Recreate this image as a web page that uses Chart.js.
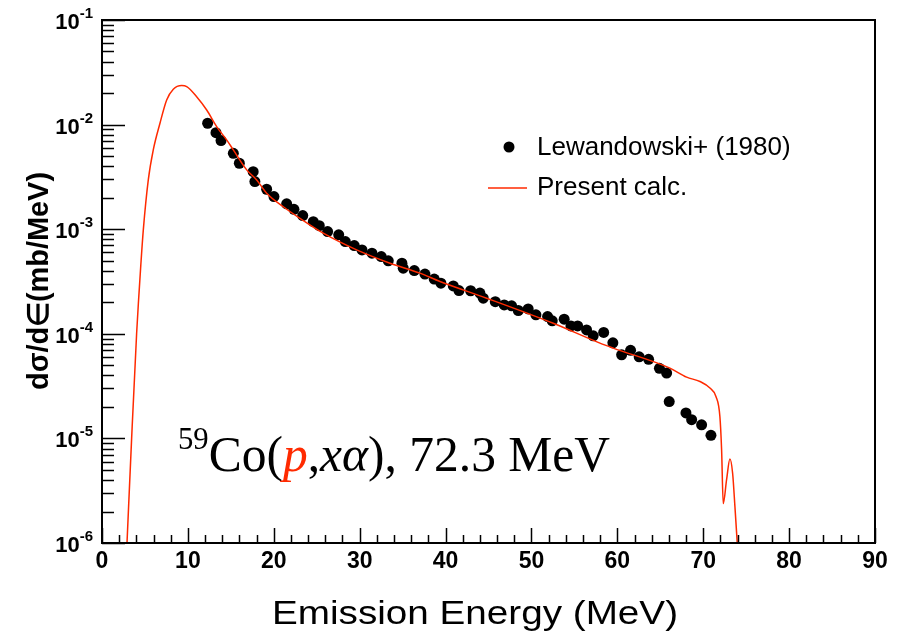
<!DOCTYPE html>
<html>
<head>
<meta charset="utf-8">
<script src="https://cdn.jsdelivr.net/npm/chart.js@4"></script>
<style>
  html, body { margin: 0; padding: 0; background: #fff; }
  canvas { display: block; }
</style>
</head>
<body>
<canvas id="c" width="901" height="639"></canvas>
<script>
// Measured alpha emission spectrum (energy in MeV, dsigma/dE in mb/MeV)
const energyExp = [
  12.3, 13.27, 13.86, 15.29, 15.99, 17.6, 17.8, 19.17, 20.02, 21.5,
  22.35, 23.37, 24.6, 25.3, 26.27, 27.56, 28.33, 29.37, 30.27, 31.43,
  32.51, 33.33, 34.92, 35.07, 36.36, 37.6, 38.68, 39.46, 40.9, 41.56,
  42.92, 44.0, 44.39, 45.79, 46.83, 47.69, 48.47, 49.62, 50.52, 51.88,
  52.42, 53.81, 54.6, 55.38, 56.42, 57.19, 58.41, 59.48, 60.5, 61.54,
  62.54, 63.64, 64.9, 65.74, 66.04, 67.99, 68.65, 69.81, 70.9
];
const sigmaExp = [
  1.03e-2, 8.38e-3, 7.03e-3, 5.32e-3, 4.27e-3, 3.55e-3, 2.85e-3, 2.41e-3, 2.05e-3, 1.75e-3,
  1.55e-3, 1.35e-3, 1.18e-3, 1.08e-3, 9.49e-4, 8.83e-4, 7.62e-4, 6.97e-4, 6.34e-4, 5.90e-4,
  5.48e-4, 4.98e-4, 4.73e-4, 4.24e-4, 4.02e-4, 3.72e-4, 3.34e-4, 3.05e-4, 2.87e-4, 2.59e-4,
  2.58e-4, 2.45e-4, 2.19e-4, 2.03e-4, 1.89e-4, 1.85e-4, 1.67e-4, 1.73e-4, 1.52e-4, 1.46e-4,
  1.33e-4, 1.38e-4, 1.19e-4, 1.19e-4, 1.09e-4, 9.57e-5, 1.03e-4, 8.20e-5, 6.30e-5, 6.95e-5,
  6.03e-5, 5.70e-5, 4.68e-5, 4.21e-5, 2.25e-5, 1.75e-5, 1.51e-5, 1.35e-5, 1.07e-5
];

// Calculated spectrum
const energyCalc = [
  2.91, 3.45, 4.03, 4.26, 4.52, 4.81, 5.39, 5.97, 6.75, 7.53,
  8.30, 9.28, 9.86, 11.02, 12.19, 13.35, 14.51, 15.29, 16.85, 18.01,
  19.17, 21.11, 23.05, 25.76, 29.65, 33.53, 37.02, 39.35, 44.78, 52.54,
  57.97, 59.52, 66.12, 68.07, 69.62, 70.78, 71.48, 71.94, 72.14, 72.33,
  72.72, 73.11, 73.42, 73.69, 73.96
];
const sigmaCalc = [
  1.0e-6, 1.0e-5, 1.0e-4, 2.11e-4, 4.56e-4, 9.86e-4, 2.96e-3, 5.73e-3, 1.03e-2, 1.72e-2,
  2.18e-2, 2.36e-2, 2.31e-2, 1.85e-2, 1.38e-2, 9.57e-3, 7.14e-3, 5.73e-3, 3.69e-3, 2.96e-3,
  2.21e-3, 1.64e-3, 1.27e-3, 9.16e-4, 6.34e-4, 4.73e-4, 3.80e-4, 3.16e-4, 2.19e-4, 1.26e-4,
  8.15e-5, 7.30e-5, 4.70e-5, 3.85e-5, 3.50e-5, 3.03e-5, 2.52e-5, 1.62e-5, 7.78e-6, 2.38e-6,
  4.03e-6, 6.35e-6, 4.67e-6, 2.24e-6, 1.0e-6
];

// Axis ticks and labels
const xTickValues = [0, 10, 20, 30, 40, 50, 60, 70, 80, 90];
const yTickExponents = [-6, -5, -4, -3, -2, -1];
const seriesLabels = ['Lewandowski+ (1980)', 'Present calc.'];
const xTitle = 'Emission Energy (MeV)';
const yTitle = 'dσ/d∈(mb/MeV)';

const RED = '#ff2a00';
const SANS = '"Liberation Sans", Arial, Helvetica, sans-serif';
const SERIF = '"Liberation Serif", "Times New Roman", serif';

// Write text squeezed/stretched horizontally to a given width
function fitText(ctx, text, x, y, width) {
  const w = ctx.measureText(text).width;
  ctx.save();
  ctx.translate(x, y);
  ctx.scale(width / w, 1);
  ctx.textAlign = 'left';
  ctx.fillText(text, 0, 0);
  ctx.restore();
}

const framePlugin = {
  id: 'frame',
  afterDatasetsDraw(chart) {
    const { ctx, chartArea: a, scales: { x, y } } = chart;
    ctx.save();

    // plot box
    ctx.strokeStyle = '#000';
    ctx.lineWidth = 2;
    ctx.strokeRect(a.left, a.top, a.right - a.left, a.bottom - a.top);

    // x ticks (pointing inward from the bottom axis)
    ctx.lineWidth = 1.5;
    ctx.beginPath();
    for (let v = x.min; v <= x.max; v += 2) {
      const px = Math.round(x.getPixelForValue(v)) + 0.5;
      const len = xTickValues.includes(v) ? 15 : 8;
      ctx.moveTo(px, a.bottom);
      ctx.lineTo(px, a.bottom - len);
    }
    // y ticks (pointing inward from the left axis)
    for (let i = 0; i < yTickExponents.length; i++) {
      const e = yTickExponents[i];
      const mMax = i === yTickExponents.length - 1 ? 1 : 9;
      for (let m = 1; m <= mMax; m++) {
        const py = Math.round(y.getPixelForValue(m * Math.pow(10, e))) + 0.5;
        const len = m === 1 ? 23 : 12;
        ctx.moveTo(a.left, py);
        ctx.lineTo(a.left + len, py);
      }
    }
    ctx.stroke();

    // x tick labels
    ctx.fillStyle = '#000';
    ctx.font = 'bold 23px ' + SANS;
    ctx.textAlign = 'center';
    ctx.textBaseline = 'alphabetic';
    xTickValues.forEach(v => {
      ctx.fillText(String(v), x.getPixelForValue(v), a.bottom + 25);
    });

    // y tick labels: 10 with raised exponent
    ctx.textAlign = 'right';
    yTickExponents.forEach(e => {
      const py = y.getPixelForValue(Math.pow(10, e));
      const exp = String(e);
      ctx.font = 'bold 15px ' + SANS;
      const ew = ctx.measureText(exp).width;
      ctx.fillText(exp, 93, py - 2);
      ctx.font = 'bold 22px ' + SANS;
      ctx.fillText('10', 93 - ew, py + 9);
    });

    // axis titles
    ctx.font = '33px ' + SANS;
    ctx.textBaseline = 'alphabetic';
    fitText(ctx, xTitle, 272, 624, 406);

    ctx.save();
    ctx.translate(48, 390);
    ctx.rotate(-Math.PI / 2);
    ctx.font = 'bold 29px ' + SANS;
    fitText(ctx, yTitle, 0, 0, 218);
    ctx.restore();

    // legend
    ctx.fillStyle = '#000';
    ctx.beginPath();
    ctx.arc(509, 147, 5.5, 0, Math.PI * 2);
    ctx.fill();
    ctx.strokeStyle = RED;
    ctx.lineWidth = 1.5;
    ctx.beginPath();
    ctx.moveTo(488, 188);
    ctx.lineTo(527, 188);
    ctx.stroke();
    ctx.font = '26px ' + SANS;
    ctx.textAlign = 'left';
    ctx.fillText(seriesLabels[0], 537, 155);
    ctx.fillText(seriesLabels[1], 537, 195);

    // reaction label
    const parts = [
      { t: '59', f: '31px ' + SERIF, dy: -22, c: '#000' },
      { t: 'Co(', f: '50px ' + SERIF, dy: 0, c: '#000' },
      { t: 'p', f: 'italic 50px ' + SERIF, dy: 0, c: RED },
      { t: ',', f: '50px ' + SERIF, dy: 0, c: '#000' },
      { t: 'x', f: 'italic 50px ' + SERIF, dy: 0, c: '#000' },
      { t: 'α', f: 'italic 50px ' + SERIF, dy: 0, c: '#000' },
      { t: '), 72.3 MeV', f: '50px ' + SERIF, dy: 0, c: '#000' }
    ];
    let total = 0;
    parts.forEach(p => { ctx.font = p.f; p.w = ctx.measureText(p.t).width; total += p.w; });
    const sx = 432 / total;
    ctx.save();
    ctx.translate(178, 471);
    ctx.scale(sx, 1);
    let cx = 0;
    parts.forEach(p => {
      ctx.font = p.f;
      ctx.fillStyle = p.c;
      ctx.fillText(p.t, cx, p.dy);
      cx += p.w;
    });
    ctx.restore();

    ctx.restore();
  }
};

new Chart(document.getElementById('c'), {
  type: 'scatter',
  data: {
    datasets: [
      {
        label: seriesLabels[0],
        data: energyExp.map((e, i) => ({ x: e, y: sigmaExp[i] })),
        pointRadius: 5.5,
        pointBackgroundColor: '#000',
        pointBorderWidth: 0,
        showLine: false,
        order: 2
      },
      {
        label: seriesLabels[1],
        data: energyCalc.map((e, i) => ({ x: e, y: sigmaCalc[i] })),
        showLine: true,
        pointRadius: 0,
        borderColor: RED,
        borderWidth: 1.5,
        cubicInterpolationMode: 'monotone',
        fill: false,
        order: 1
      }
    ]
  },
  options: {
    responsive: false,
    animation: false,
    devicePixelRatio: 1,
    layout: { padding: { left: 102, top: 20, right: 26, bottom: 96 } },
    plugins: { legend: { display: false }, tooltip: { enabled: false } },
    scales: {
      x: { type: 'linear', min: 0, max: 90, display: false },
      y: { type: 'logarithmic', min: 1e-6, max: 1e-1, display: false }
    }
  },
  plugins: [framePlugin]
});
</script>
</body>
</html>
